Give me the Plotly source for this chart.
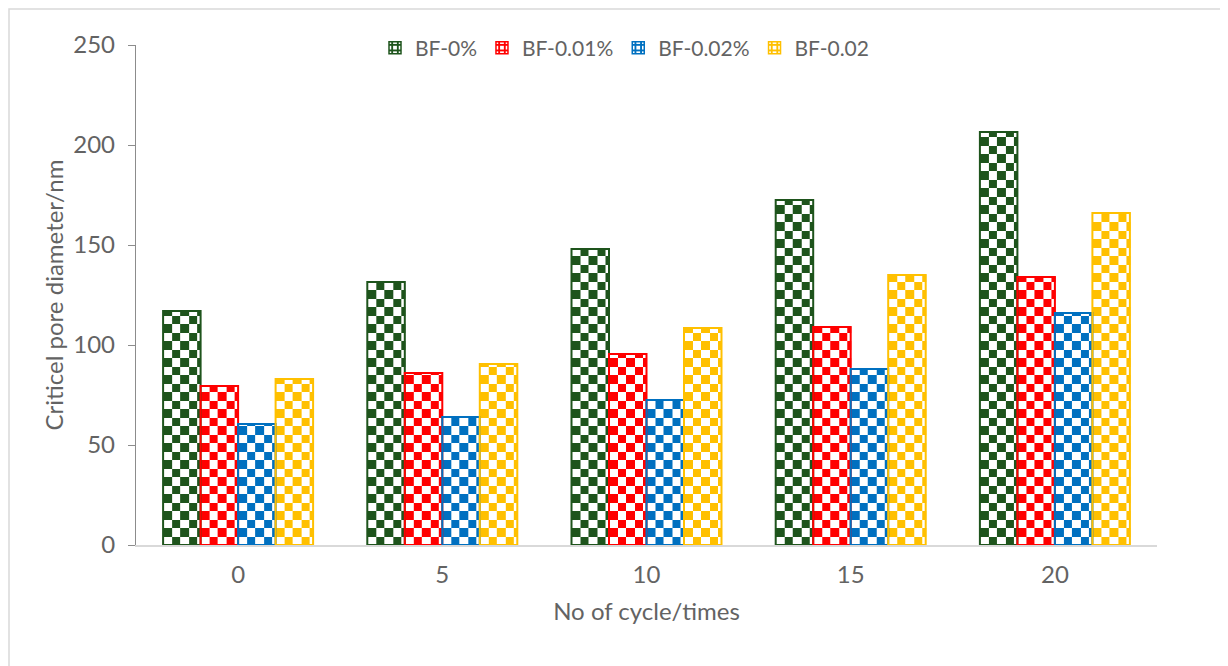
import math
import plotly.graph_objects as go

# ---- data ----
cycles = ["0", "5", "10", "15", "20"]
series_names = ["BF-0%", "BF-0.01%", "BF-0.02%", "BF-0.02"]
bf_0 = [117, 131.5, 148, 172.5, 206.5]
bf_001 = [79.5, 86, 95.5, 109, 134]
bf_002 = [60.5, 64, 72.5, 88, 116]
bf_002b = [83, 90.5, 108.5, 135, 166]
y_ticks = [0, 50, 100, 150, 200, 250]

series_values = [bf_0, bf_001, bf_002, bf_002b]
colors = ["#1e541c", "#ff0000", "#0070c0", "#ffc000"]

# ---- geometry / style ----
PAGE_OFF = 8                      # default body margin of the html page
W, H = 1228 - PAGE_OFF, 666 - PAGE_OFF
ml, mt = 136 - PAGE_OFF, 45 - PAGE_OFF
plot_w, plot_h = 1021, 500
mr = W - ml - plot_w
mb = H - mt - plot_h
n_groups = len(cycles)
px_per_x = plot_w / n_groups
px_per_y = plot_h / (y_ticks[-1] - y_ticks[0])
bar_w = 37.5 / px_per_x
cell_px = 8.5
cx = cell_px / px_per_x
cy = cell_px / px_per_y

FONT = "Lato"
TXT = "#636363"
AX_SIZE = 24
LEG_SIZE = 21

fig = go.Figure()
idx = list(range(n_groups))

# checkerboard fills (heatmaps) drawn under the bar outlines
for s, (vals, col) in enumerate(zip(series_values, colors)):
    for g, v in zip(idx, vals):
        left = g + (s - 2) * bar_w
        right = left + bar_w
        ncols = int(math.ceil(bar_w / cx - 1e-9))
        xe = [left + k * cx for k in range(ncols)] + [right]
        nrows = int(math.ceil(v / cy - 1e-9))
        ye = [k * cy for k in range(nrows)] + [v]
        z = [[(i + j) % 2 for j in range(ncols)] for i in range(nrows)]
        fig.add_trace(go.Heatmap(
            x=xe, y=ye, z=z, zmin=0, zmax=1,
            colorscale=[[0, "white"], [1, col]],
            showscale=False, hoverinfo="skip", showlegend=False,
        ))

# bar outlines
for s, (vals, col, name) in enumerate(zip(series_values, colors, series_names)):
    fig.add_trace(go.Bar(
        x=idx, y=vals, width=bar_w, offset=(s - 2) * bar_w,
        marker=dict(color="rgba(0,0,0,0)", line=dict(color=col, width=2)),
        name=name, showlegend=False,
    ))

# legend entries
for col, name in zip(colors, series_names):
    fig.add_trace(go.Bar(
        x=[None], y=[None], name=name,
        marker=dict(color=col, line=dict(color=col, width=1.5),
                    pattern=dict(shape="+", fgcolor=col, bgcolor="white",
                                 size=7, solidity=0.55, fillmode="replace")),
    ))

fig.update_layout(
    width=W, height=H,
    margin=dict(l=ml, r=mr, t=mt, b=mb),
    paper_bgcolor="white", plot_bgcolor="white",
    barmode="overlay",
    font=dict(family=FONT, size=AX_SIZE, color=TXT),
    legend=dict(orientation="h", x=0.5 - 22 / plot_w, xanchor="center",
                y=(plot_h + mt - (48 - PAGE_OFF)) / plot_h,
                yanchor="middle", font=dict(family=FONT, size=LEG_SIZE, color=TXT),
                bgcolor="rgba(0,0,0,0)", itemwidth=30, traceorder="normal"),
    xaxis=dict(range=[-0.5, n_groups - 0.5], tickvals=idx, ticktext=cycles,
               showline=True, linecolor="#d9d9d9", linewidth=1.5, ticks="",
               showgrid=False, zeroline=False, ticklabelstandoff=7,
               tickfont=dict(family=FONT, size=AX_SIZE, color=TXT),
               title=dict(text="No of cycle/times", standoff=17,
                          font=dict(family=FONT, size=AX_SIZE, color=TXT))),
    yaxis=dict(range=[y_ticks[0], y_ticks[-1]], tickvals=y_ticks,
               showline=True, linecolor="#8c8c8c", linewidth=1.3,
               ticks="outside", ticklen=7, tickcolor="#8c8c8c", tickwidth=1.3,
               ticklabelstandoff=8,
               showgrid=False, zeroline=False,
               tickfont=dict(family=FONT, size=AX_SIZE, color=TXT),
               title=dict(text="Criticel pore diameter/nm", standoff=2,
                          font=dict(family=FONT, size=AX_SIZE, color=TXT))),
    shapes=[dict(type="rect", xref="paper", yref="paper",
                 x0=(9 - PAGE_OFF - ml) / plot_w, x1=(W + 20 - ml) / plot_w,
                 y0=(plot_h + mt - (H + 20)) / plot_h,
                 y1=(plot_h + mt - (9 - PAGE_OFF)) / plot_h,
                 line=dict(color="#d9d9d9", width=1.5), fillcolor="rgba(0,0,0,0)",
                 layer="below")],
)

fig.write_html("out.html")
